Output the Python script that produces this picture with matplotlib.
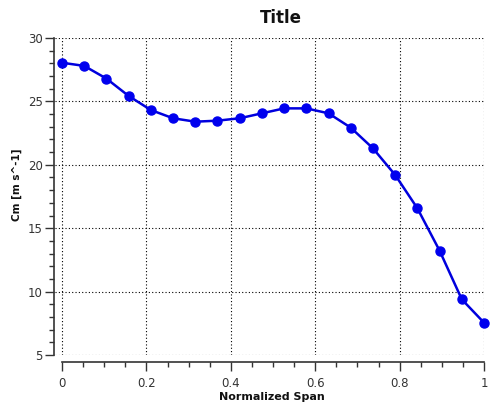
import numpy as np
import matplotlib
matplotlib.use("Agg")
import matplotlib.pyplot as plt
from matplotlib.ticker import MultipleLocator

# spanwise Cm distribution (20 stations, 0..1)
span = np.linspace(0.0, 1.0, 20)
cm = [28.05, 27.8, 26.8, 25.43, 24.32, 23.67, 23.4, 23.48, 23.67, 24.06,
      24.45, 24.45, 24.06, 22.93, 21.3, 19.2, 16.57, 13.23, 9.39, 7.55]

x_ticks = [0, 0.2, 0.4, 0.6, 0.8, 1.0]
x_ticklabels = ["0", "0.2", "0.4", "0.6", "0.8", "1"]
y_ticks = [5, 10, 15, 20, 25, 30]

fig = plt.figure(figsize=(5.02, 4.03), dpi=100)
ax = fig.add_axes([55 / 502, 48 / 403, 429 / 502, 317 / 403])

ax.plot(span, cm, color="#0000DD", lw=1.8, marker="o", ms=6.5,
        mec="#0000EE", mfc="#0000EE", clip_on=False, zorder=3)

ax.set_xlim(-0.0166, 1.0)
ax.set_ylim(5, 30)
ax.set_xticks(x_ticks)
ax.set_xticklabels(x_ticklabels)
ax.set_yticks(y_ticks)
ax.xaxis.set_minor_locator(MultipleLocator(0.05))
ax.yaxis.set_minor_locator(MultipleLocator(1))

ax.grid(True, which="major", color="black", linestyle=(0, (1, 2)), lw=0.8)

for s in ("top", "right"):
    ax.spines[s].set_visible(False)
ax.spines["bottom"].set_position(("outward", 5))
ax.spines["bottom"].set_bounds(0, 1)
ax.spines["left"].set_position(("outward", 0.7))
ax.spines["left"].set_bounds(5, 30)
for s in ("bottom", "left"):
    ax.spines[s].set_color("#333333")
    ax.spines[s].set_linewidth(1.2)

ax.tick_params(which="major", length=6.5, width=1.0, color="#333333",
               labelsize=8.5, labelcolor="#333333")
ax.tick_params(which="minor", length=3.5, width=1.0, color="#333333")
ax.tick_params(axis="x", pad=4)
ax.tick_params(axis="y", pad=1.5)

fig.text(281 / 502, 1 - 18 / 403, "Title", ha="center", va="center",
         fontsize=12, fontweight="bold", color="#111111")
fig.text(272 / 502, 1 - 397 / 403, "Normalized Span", ha="center",
         va="center", fontsize=8, fontweight="bold", color="#111111")
fig.text(17 / 502, 1 - 185 / 403, "Cm [m s^-1]", ha="center", va="center",
         rotation=90, fontsize=7.5, fontweight="bold", color="#111111")

fig.savefig("out.png", dpi=100)
